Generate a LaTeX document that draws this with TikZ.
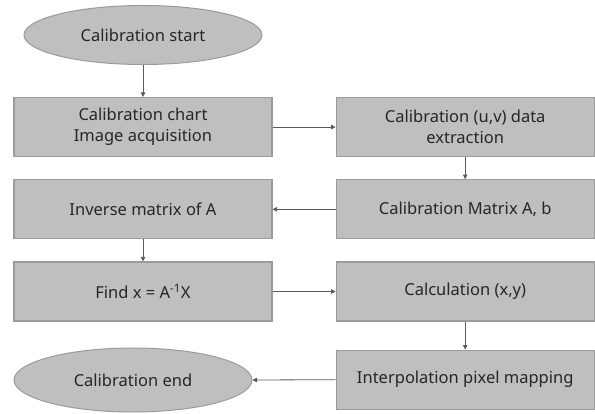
\documentclass[tikz,border=0pt]{standalone}
\usepackage{fontspec}
\setmainfont{Noto Sans}
\usepackage{tikz}
\usetikzlibrary{positioning,arrows.meta,shapes.geometric}
\definecolor{BoxFill}{RGB}{191,191,191}
\definecolor{BoxLine}{RGB}{155,155,155}
\definecolor{LinkGray}{RGB}{90,90,90}
\tikzset{
  proc/.style={rectangle, draw=BoxLine, line width=1.2pt, fill=BoxFill, align=center,
    minimum width=258pt, minimum height=59pt, font=\fontsize{16.5}{21}\selectfont, text=black!85},
  term/.style={ellipse, draw=BoxLine, line width=1pt, fill=BoxFill, align=center,
    minimum width=238pt, minimum height=59pt, font=\fontsize{16.5}{21}\selectfont, text=black!85},
  arrow/.style={-{Triangle[length=4.5pt,width=4.5pt]}, line width=0.8pt, draw=LinkGray}
}
\begin{document}
\begin{tikzpicture}[x=1pt, y=-1pt, node distance=22pt and 63pt]
  \useasboundingbox (0,0) rectangle (595,414);
  \node[term] (start) at (143,35) {Calibration start};
  \node[proc, below=32pt of start] (chart) {Calibration chart\\Image acquisition};
  \node[proc, right=of chart] (extract) {Calibration (u,v) data\\extraction};
  \node[proc, below=of extract] (matA) {Calibration Matrix A, b};
  \node[proc, below=of chart] (inverse) {Inverse matrix of A};
  \node[proc, below=of inverse] (findx) {Find x = A\textsuperscript{-1}X};
  \node[proc, below=of matA] (calc) {Calculation (x,y)};
  \node[proc, below=28pt of calc] (interp) {Interpolation pixel mapping};
  \node[term, minimum height=64pt] (stop) at (133,380) {Calibration end};
  \draw[arrow] (start) -- (chart);
  \draw[arrow] (chart) -- (extract);
  \draw[arrow] (extract) -- (matA);
  \draw[arrow] (matA) -- (inverse);
  \draw[arrow] (inverse) -- (findx);
  \draw[arrow] (findx) -- (calc);
  \draw[arrow] (calc) -- (interp);
  \draw[arrow] (interp.west) -- (stop.east);
\end{tikzpicture}
\end{document}
